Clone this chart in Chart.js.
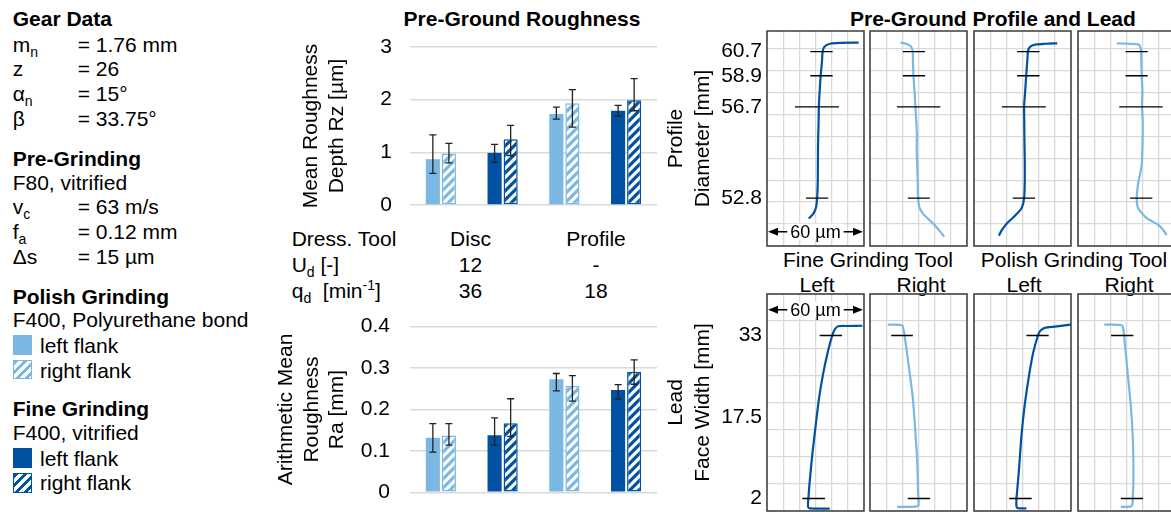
<!DOCTYPE html>
<html>
<head>
<meta charset="utf-8">
<script src="https://cdn.jsdelivr.net/npm/chart.js@4.4.1/dist/chart.umd.min.js"></script>
<style>
  html, body { margin: 0; padding: 0; background: #fff; overflow: hidden; }
  body { width: 1171px; height: 512px; position: relative; font-family: 'Liberation Sans', Arial, sans-serif; font-size: 21px; color: #000; }
  .t { position: absolute; white-space: nowrap; line-height: 25px; }
  .b { font-weight: bold; }
  .c { width: 240px; text-align: center; }
  .v { position: absolute; left: 65px; top: 0; }
  sub { font-size: 14px; vertical-align: -5px; line-height: 0; }
  sup { font-size: 14px; vertical-align: 8px; line-height: 0; }
  .sq { position: absolute; left: 12.7px; width: 19.6px; height: 19.4px; box-sizing: border-box; }
  .hl { border: 1.5px solid #7ab8e3; background: repeating-linear-gradient(135deg, #7ab8e3 0 3px, #fff 3px 6.4px); }
  .hd { border: 1.5px solid #0051a1; background: repeating-linear-gradient(135deg, #0051a1 0 3px, #fff 3px 6.4px); }
  canvas { position: absolute; }
</style>
</head>
<body>

<!-- process data -->
<div class="t b" style="left:12.7px;top:6px">Gear Data</div>
<div class="t" style="left:12.7px;top:32px">m<sub>n</sub><span class="v">= 1.76 mm</span></div>
<div class="t" style="left:12.7px;top:56px">z<span class="v">= 26</span></div>
<div class="t" style="left:12.7px;top:81px">α<sub>n</sub><span class="v">= 15°</span></div>
<div class="t" style="left:12.7px;top:106px">β<span class="v">= 33.75°</span></div>
<div class="t b" style="left:12.7px;top:146px">Pre-Grinding</div>
<div class="t" style="left:12.7px;top:169.5px">F80, vitrified</div>
<div class="t" style="left:12.7px;top:194px">v<sub>c</sub><span class="v">= 63 m/s</span></div>
<div class="t" style="left:12.7px;top:219px">f<sub>a</sub><span class="v">= 0.12 mm</span></div>
<div class="t" style="left:12.7px;top:244px">Δs<span class="v">= 15 µm</span></div>
<div class="t b" style="left:12.7px;top:283.5px">Polish Grinding</div>
<div class="t" style="left:12.7px;top:307px">F400, Polyurethane bond</div>
<div class="sq" style="top:335.3px;background:#7ab8e3"></div>
<div class="t" style="left:40px;top:333px">left flank</div>
<div class="sq hl" style="top:360px"></div>
<div class="t" style="left:40px;top:357.5px">right flank</div>
<div class="t b" style="left:12.7px;top:396px">Fine Grinding</div>
<div class="t" style="left:12.7px;top:420px">F400, vitrified</div>
<div class="sq" style="top:448.3px;background:#0051a1"></div>
<div class="t" style="left:40px;top:445.5px">left flank</div>
<div class="sq hd" style="top:473.3px"></div>
<div class="t" style="left:40px;top:470px">right flank</div>

<!-- roughness -->
<div class="t b c" style="left:402px;top:6px">Pre-Ground Roughness</div>
<div class="t" style="left:291.7px;top:226px">Dress. Tool</div>
<div class="t" style="left:291.7px;top:252px">U<sub>d</sub> [-]</div>
<div class="t" style="left:291.7px;top:278px">q<sub>d</sub>&nbsp; [min<sup>-1</sup>]</div>
<div class="t c" style="left:350.5px;top:226px">Disc</div>
<div class="t c" style="left:350.5px;top:252px">12</div>
<div class="t c" style="left:350.5px;top:278px">36</div>
<div class="t c" style="left:476px;top:226px">Profile</div>
<div class="t c" style="left:476px;top:252px">-</div>
<div class="t c" style="left:476px;top:278px">18</div>
<canvas id="rz" width="400" height="190" style="left:270px;top:30px"></canvas>
<canvas id="ra" width="400" height="202" style="left:270px;top:310px"></canvas>

<!-- profile and lead -->
<div class="t b c" style="left:850px;top:6px">Pre-Ground Profile and Lead</div>
<div class="t c" style="left:748px;top:247px">Fine Grinding Tool</div>
<div class="t c" style="left:954px;top:247px">Polish Grinding Tool</div>
<div class="t c" style="left:697px;top:272px">Left</div>
<div class="t c" style="left:801px;top:272px">Right</div>
<div class="t c" style="left:904px;top:272px">Left</div>
<div class="t c" style="left:1009px;top:272px">Right</div>
<canvas id="p1" width="206" height="247" style="left:660px;top:15px"></canvas>
<canvas id="p2" width="103" height="247" style="left:866px;top:15px"></canvas>
<canvas id="p3" width="103" height="247" style="left:970px;top:15px"></canvas>
<canvas id="p4" width="103" height="247" style="left:1074px;top:15px"></canvas>
<canvas id="l1" width="206" height="249" style="left:660px;top:278px"></canvas>
<canvas id="l2" width="103" height="249" style="left:866px;top:278px"></canvas>
<canvas id="l3" width="103" height="249" style="left:970px;top:278px"></canvas>
<canvas id="l4" width="103" height="249" style="left:1074px;top:278px"></canvas>

<script>
const light = '#7ab8e3';
const dark = '#0051a1';
const gridColor = '#d9d9d9';

// bar groups: disc (polish, fine), profile (polish, fine)
const groups = ['Disc Polish', 'Disc Fine', 'Profile Polish', 'Profile Fine'];
const groupColors = [light, dark, light, dark];

const rzLeft = [0.87, 0.99, 1.73, 1.79];
const rzLeftLow = [0.60, 0.81, 1.63, 1.69];
const rzLeftHigh = [1.33, 1.15, 1.86, 1.89];
const rzRight = [0.98, 1.25, 1.93, 1.99];
const rzRightLow = [0.80, 0.94, 1.48, 1.79];
const rzRightHigh = [1.17, 1.51, 2.19, 2.40];

const raLeft = [0.132, 0.138, 0.273, 0.247];
const raLeftLow = [0.097, 0.114, 0.245, 0.225];
const raLeftHigh = [0.166, 0.180, 0.287, 0.260];
const raRight = [0.137, 0.167, 0.257, 0.291];
const raRightLow = [0.114, 0.135, 0.220, 0.261];
const raRightHigh = [0.166, 0.226, 0.282, 0.320];

// profile / lead traces: [deviation in µm, position along measuring range]
const profileTickPos = [8.86, 7.76, 6.34, 2.18];
const profileTickLabels = ['60.7', '58.9', '56.7', '52.8'];
const leadTickPos = [6.47, 3.47, 0.47];
const leadTickLabels = ['33', '17.5', '2'];

const profFineLeft = [[56.7,9.27],[45,9.26],[39,9.22],[35.5,9.08],[34.4,8.86],[34.0,8.4],[33.2,7.76],[32.6,7.1],[32.1,6.36],[31.9,5.6],[31.6,4.77],[31.5,3.9],[31.4,2.94],[31.0,2.18],[30.3,1.75],[28.7,1.48],[25.8,1.25]];
const profFineRight = [[18.9,9.27],[22.4,9.22],[25.3,9.1],[26.4,8.86],[26.6,8.3],[26.9,7.76],[27.6,7.0],[28.1,6.36],[28.6,5.7],[29.0,5.08],[28.9,4.4],[29.2,3.7],[29.5,2.94],[29.8,2.18],[30.6,1.75],[33.0,1.45],[36.5,1.2],[40.9,0.88],[44.0,0.6],[46.0,0.43]];
const profPolishLeft = [[51.5,9.24],[44,9.22],[38.6,9.19],[35,9.1],[33.4,8.9],[33.1,8.6],[32.3,7.76],[31.6,7.0],[31.0,6.36],[31.1,5.6],[31.2,4.77],[31.4,3.9],[31.4,2.94],[31.0,2.18],[29.6,1.75],[27.0,1.5],[24.2,1.3],[21.0,1.08],[19.1,0.92],[17.0,0.7],[15.4,0.47]];
const profPolishRight = [[24.0,9.24],[31,9.22],[37.4,9.19],[38.7,9.04],[39.0,8.86],[39.2,8.3],[39.4,7.76],[39.8,7.0],[39.6,6.36],[40.0,5.7],[40.0,5.08],[39.8,4.4],[39.4,3.7],[38.2,3.2],[37.4,2.94],[36.6,2.5],[36.3,2.18],[37.0,1.75],[39.5,1.5],[42.5,1.27],[46.5,1.1],[49.7,0.96],[52.5,0.75],[54.8,0.5]];

const leadFineLeft = [[59.0,6.83],[50,6.82],[43.9,6.81],[41.9,6.69],[40.4,6.48],[37.7,5.89],[34.6,5.02],[32.2,4.16],[29.9,3.05],[28.0,2.07],[26.4,1.08],[25.6,0.46],[25.4,0.16],[26.4,0.10],[38.8,0.09]];
const leadFineRight = [[11.1,6.87],[19.9,6.85],[20.7,6.69],[21.4,6.48],[24.4,5.15],[26.5,4.16],[27.9,3.05],[29.2,1.82],[29.8,0.59],[30.0,0.22],[28.5,0.16],[16.8,0.15]];
const leadPolishLeft = [[59.8,6.87],[50,6.80],[43.7,6.75],[41.1,6.65],[39.6,6.48],[36.6,5.83],[34.1,5.02],[31.4,3.92],[29.4,2.81],[27.9,1.58],[26.3,0.46],[26.3,0.16],[27.3,0.10],[32.4,0.10]];
const leadPolishRight = [[16.2,6.87],[27.1,6.85],[28.1,6.69],[28.5,6.48],[30.6,5.15],[32.6,3.92],[33.9,2.68],[34.3,1.33],[33.9,0.46],[33.5,0.22],[32.2,0.16],[26.5,0.15]];

// scatter markers: [position, from µm, to µm]
const profMarksFineLeft = [[8.86,26.8,40.6],[7.76,26.8,40.6],[6.34,17.3,44.5],[2.18,24.1,37.9]];
const profMarksFineRight = [[8.86,20.3,34.1],[7.76,20.3,34.1],[6.34,16.6,43.5],[2.18,23.4,37.0]];
const profMarksPolishLeft = [[8.86,26.7,40.5],[7.76,26.7,40.5],[6.34,17.2,44.4],[2.18,24.0,37.8]];
const profMarksPolishRight = [[8.86,29.4,43.1],[7.76,29.4,43.1],[6.34,25.5,52.4],[2.18,32.2,46.0]];
const leadMarksFineLeft = [[6.47,32.6,46.4],[0.46,21.9,35.9]];
const leadMarksFineRight = [[6.47,13.1,26.5],[0.46,23.4,37.2]];
const leadMarksPolishLeft = [[6.47,32.4,46.2],[0.46,21.8,35.7]];
const leadMarksPolishRight = [[6.47,20.5,34.3],[0.46,26.5,40.2]];

Chart.defaults.font.family = "'Liberation Sans', Arial, sans-serif";
Chart.defaults.font.size = 21;
Chart.defaults.color = '#000';

function hatch(color) {
    const c = document.createElement('canvas');
    c.width = c.height = 9;
    const g = c.getContext('2d');
    g.fillStyle = '#fff';
    g.fillRect(0, 0, 9, 9);
    g.strokeStyle = color;
    g.lineWidth = 3.2;
    g.beginPath();
    g.moveTo(0, 9); g.lineTo(9, 0);
    g.moveTo(-2, 2); g.lineTo(2, -2);
    g.moveTo(7, 11); g.lineTo(11, 7);
    g.stroke();
    return g.createPattern(c, 'repeat');
}

const errorBars = {
    id: 'errorBars',
    afterDatasetsDraw(chart) {
        const ctx = chart.ctx;
        const y = chart.scales.y;
        ctx.save();
        ctx.strokeStyle = '#222';
        ctx.lineWidth = 1.3;
        chart.data.datasets.forEach(function(ds, i) {
            chart.getDatasetMeta(i).data.forEach(function(bar, j) {
                const top = y.getPixelForValue(ds.high[j]);
                const bot = y.getPixelForValue(ds.low[j]);
                ctx.beginPath();
                ctx.moveTo(bar.x, top); ctx.lineTo(bar.x, bot);
                ctx.moveTo(bar.x - 3.5, top); ctx.lineTo(bar.x + 3.5, top);
                ctx.moveTo(bar.x - 3.5, bot); ctx.lineTo(bar.x + 3.5, bot);
                ctx.stroke();
            });
        });
        ctx.restore();
    }
};

function barChart(id, cfg) {
    return new Chart(document.getElementById(id), {
        type: 'bar',
        data: {
            labels: groups,
            datasets: [{
                label: 'left flank',
                data: cfg.left, low: cfg.leftLow, high: cfg.leftHigh,
                backgroundColor: groupColors,
                borderWidth: 0,
                categoryPercentage: 0.52, barPercentage: 0.88
            }, {
                label: 'right flank',
                data: cfg.right, low: cfg.rightLow, high: cfg.rightHigh,
                backgroundColor: groupColors.map(hatch),
                borderColor: groupColors,
                borderWidth: 1.5,
                borderSkipped: false,
                categoryPercentage: 0.52, barPercentage: 0.88
            }]
        },
        options: {
            responsive: false,
            animation: false,
            events: [],
            layout: { padding: cfg.padding },
            plugins: { legend: { display: false }, tooltip: { enabled: false } },
            scales: {
                x: { display: false },
                y: {
                    min: 0, max: cfg.max,
                    ticks: { stepSize: cfg.step, padding: 0 },
                    // gap between labels and plot comes from an invisible tick mark
                    grid: { color: gridColor, lineWidth: 1.5, drawTicks: true, tickLength: cfg.tickGap, tickColor: 'rgba(0,0,0,0)' },
                    border: { display: false },
                    title: { display: true, text: cfg.title, font: { size: 21, lineHeight: cfg.lineHeight }, padding: { top: cfg.titlePad, bottom: 0 } },
                    afterFit: function(scale) { scale.width = 140; }
                }
            }
        },
        plugins: [errorBars]
    });
}

barChart('rz', {
    left: rzLeft, leftLow: rzLeftLow, leftHigh: rzLeftHigh,
    right: rzRight, rightLow: rzRightLow, rightHigh: rzRightHigh,
    max: 3, step: 1, tickGap: 18,
    title: ['Mean Roughness', 'Depth Rz [µm]'], lineHeight: 26 / 21, titlePad: 28,
    padding: { left: 0, top: 17, right: 13, bottom: 15 }
});

barChart('ra', {
    left: raLeft, leftLow: raLeftLow, leftHigh: raLeftHigh,
    right: raRight, rightLow: raRightLow, rightHigh: raRightHigh,
    max: 0.4, step: 0.1, tickGap: 20,
    title: ['Arithmetic Mean', 'Roughness', 'Ra [mm]'], lineHeight: 25.25 / 21, titlePad: 3.9,
    padding: { left: 0, top: 16.7, right: 13, bottom: 19.7 }
});

const frame = {
    id: 'frame',
    afterDraw(chart) {
        const a = chart.chartArea;
        const ctx = chart.ctx;
        ctx.save();
        ctx.strokeStyle = '#3c3c3c';
        ctx.lineWidth = 1.5;
        ctx.strokeRect(a.left, a.top, a.right - a.left, a.bottom - a.top);
        ctx.restore();
    }
};

// "<- 60 µm ->" bar across the first panel
const scaleBar = {
    id: 'scaleBar',
    afterDraw(chart, args, opts) {
        const ctx = chart.ctx;
        const x = chart.scales.x, y = chart.scales.y;
        const x0 = x.getPixelForValue(x.min), x1 = x.getPixelForValue(x.max);
        const yy = y.getPixelForValue(opts.at);
        const mid = (x0 + x1) / 2;
        ctx.save();
        ctx.font = "18px 'Liberation Sans', Arial, sans-serif";
        const w = ctx.measureText(opts.text).width;
        ctx.fillStyle = '#fff';
        ctx.fillRect(mid - w / 2 - 4, yy - 8, w + 8, 16);
        ctx.fillStyle = '#000';
        ctx.strokeStyle = '#000';
        ctx.lineWidth = 1.3;
        ctx.textAlign = 'center';
        ctx.textBaseline = 'middle';
        ctx.fillText(opts.text, mid, yy + 1);
        ctx.beginPath();
        ctx.moveTo(x0 + 8, yy); ctx.lineTo(mid - w / 2 - 3, yy);
        ctx.moveTo(mid + w / 2 + 3, yy); ctx.lineTo(x1 - 8, yy);
        ctx.stroke();
        ctx.beginPath();
        ctx.moveTo(x0 + 1, yy); ctx.lineTo(x0 + 11, yy - 4); ctx.lineTo(x0 + 11, yy + 4); ctx.closePath();
        ctx.moveTo(x1 - 1, yy); ctx.lineTo(x1 - 11, yy - 4); ctx.lineTo(x1 - 11, yy + 4); ctx.closePath();
        ctx.fill();
        ctx.restore();
    }
};

function panel(id, trace, color, marks, cfg) {
    const markPts = [];
    marks.forEach(function(m) {
        markPts.push({ x: m[1], y: m[0] }, { x: m[2], y: m[0] }, { x: m[2], y: null });
    });
    const gridVals = [];
    for (let v = 0; v <= Math.floor(cfg.max); v++) gridVals.push(v);
    const labelPos = cfg.title ? cfg.tickPos : [];

    const yScale = {
        min: 0, max: cfg.max,
        afterBuildTicks: function(scale) {
            scale.ticks = gridVals.concat(labelPos).map(v => ({ value: v }));
        },
        ticks: {
            display: !!cfg.title,
            autoSkip: false,
            padding: 0,
            callback: function(v) {
                const i = labelPos.indexOf(v);
                return i >= 0 ? cfg.tickLabels[i] : '';
            }
        },
        grid: {
            color: c => (c.tick && labelPos.includes(c.tick.value)) ? 'rgba(0,0,0,0)' : gridColor,
            lineWidth: 1.3,
            drawTicks: !!cfg.title,
            tickLength: 5,
            tickColor: 'rgba(0,0,0,0)'
        },
        border: { display: false }
    };
    if (cfg.title) {
        yScale.title = { display: true, text: cfg.title, font: { size: 21, lineHeight: 26.6 / 21 }, padding: { top: 3.4, bottom: 0 } };
        yScale.afterFit = function(scale) { scale.width = 107; };
    }

    return new Chart(document.getElementById(id), {
        type: 'scatter',
        data: {
            datasets: [{
                data: markPts, showLine: true, spanGaps: false,
                borderColor: '#000', borderWidth: 1.3, pointRadius: 0
            }, {
                data: trace.map(p => ({ x: p[0], y: p[1] })), showLine: true,
                borderColor: color, borderWidth: 2.2, pointRadius: 0, tension: 0.25
            }]
        },
        options: {
            responsive: false,
            animation: false,
            events: [],
            layout: { padding: cfg.padding },
            plugins: {
                legend: { display: false },
                tooltip: { enabled: false },
                scaleBar: cfg.scaleBar || {}
            },
            scales: {
                x: {
                    type: 'linear', min: 0, max: 60,
                    ticks: { stepSize: 10, display: false },
                    grid: { color: gridColor, lineWidth: 1.3, drawTicks: false },
                    border: { display: false }
                },
                y: yScale
            }
        },
        plugins: cfg.scaleBar ? [frame, scaleBar] : [frame]
    });
}

const profileCfg = { max: 9.8, tickPos: profileTickPos, tickLabels: profileTickLabels };
const leadCfg = { max: 8, tickPos: leadTickPos, tickLabels: leadTickLabels };
const padFirst = { left: 0, top: 16, right: 2, bottom: 16 };
const padNext = { left: 4, top: 16, right: 2, bottom: 16 };

panel('p1', profFineLeft, dark, profMarksFineLeft, Object.assign({}, profileCfg, { title: ['Profile', 'Diameter [mm]'], padding: padFirst, scaleBar: { at: 0.65, text: '60 µm' } }));
panel('p2', profFineRight, light, profMarksFineRight, Object.assign({}, profileCfg, { padding: padNext }));
panel('p3', profPolishLeft, dark, profMarksPolishLeft, Object.assign({}, profileCfg, { padding: padNext }));
panel('p4', profPolishRight, light, profMarksPolishRight, Object.assign({}, profileCfg, { padding: padNext }));

panel('l1', leadFineLeft, dark, leadMarksFineLeft, Object.assign({}, leadCfg, { title: ['Lead', 'Face Width [mm]'], padding: padFirst, scaleBar: { at: 7.42, text: '60 µm' } }));
panel('l2', leadFineRight, light, leadMarksFineRight, Object.assign({}, leadCfg, { padding: padNext }));
panel('l3', leadPolishLeft, dark, leadMarksPolishLeft, Object.assign({}, leadCfg, { padding: padNext }));
panel('l4', leadPolishRight, light, leadMarksPolishRight, Object.assign({}, leadCfg, { padding: padNext }));
</script>
</body>
</html>
